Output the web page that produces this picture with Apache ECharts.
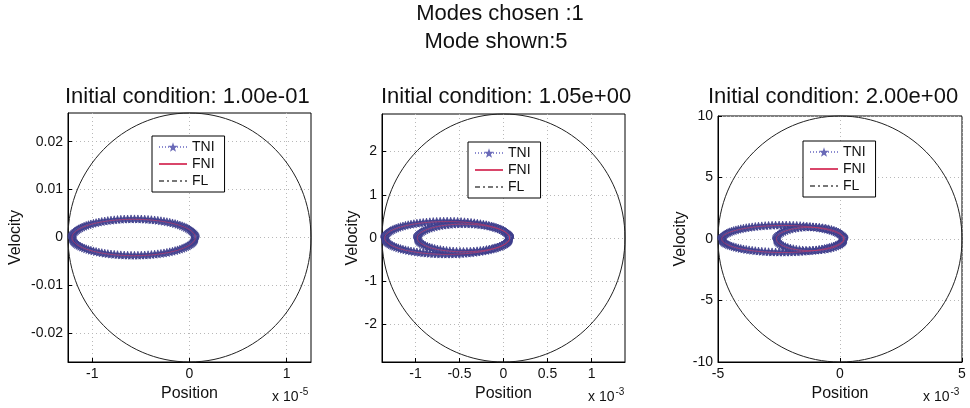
<!DOCTYPE html>
<html>
<head>
<meta charset="utf-8">
<script src="https://cdn.jsdelivr.net/npm/echarts@6/dist/echarts.min.js"></script>
<style>
html, body { margin: 0; padding: 0; background: #fff; }
#chart { width: 970px; height: 408px; }
</style>
</head>
<body>
<div id="chart"></div>
<script>
var FONT = '"Liberation Sans", Arial, Helvetica, sans-serif';

var mainTitle = ['Modes chosen :1', 'Mode shown:5'];
var titles = ['Initial condition: 1.00e-01', 'Initial condition: 1.05e+00', 'Initial condition: 2.00e+00'];
var legendNames = ['TNI', 'FNI', 'FL'];
var xLimits = [1.25, 1.38, 5];
var yLimits = [0.026, 2.87, 10];
var xTicks = [[-1, 0, 1], [-1, -0.5, 0, 0.5, 1], [-5, 0, 5]];
var yTicks = [[-0.02, -0.01, 0, 0.01, 0.02], [-2, -1, 0, 1, 2], [-10, -5, 0, 5, 10]];
var xExponents = ['-5', '-3', '-3'];
// each loop: [centre position, half width, half height]
var loops1 = [[-0.575, 0.635, 0.0038]];
var loops2 = [[-0.64, 0.71, 0.38], [-0.455, 0.525, 0.32]];
var loops3 = [[-2.35, 2.5, 1.1], [-1.22, 1.39, 0.95]];
var loops = [loops1, loops2, loops3];

var grids = [
  {left: 68, top: 113, width: 243, height: 249},
  {left: 382, top: 114, width: 243, height: 248},
  {left: 718, top: 116, width: 244, height: 246}
];
var legendPos = [[152, 136], [468, 142], [803, 141]];
var velGap = [44, 21, 29];
var titleX = [65, 381, 708];
var expPos = [[272, 397], [588, 397], [923, 397]];

var starPath = 'path://M0,-10L2.35,-3.24L9.51,-3.09L3.8,1.24L5.88,8.09L0,4L-5.88,8.09L-3.8,1.24L-9.51,-3.09L-2.35,-3.24Z';

function starPoints(x, y, r) {
  var pts = [];
  for (var k = 0; k < 10; k++) {
    var a = -Math.PI / 2 + k * Math.PI / 5;
    var rr = k % 2 ? r * 0.42 : r;
    pts.push([x + rr * Math.cos(a), y + rr * Math.sin(a)]);
  }
  return pts;
}

function ellipseItem(stroke, width, dash) {
  return function (params, api) {
    var c = api.coord([api.value(0), api.value(1)]);
    var s = api.size([api.value(2), api.value(3)]);
    return {
      type: 'ellipse',
      shape: {cx: c[0], cy: c[1], rx: s[0], ry: s[1]},
      style: {fill: 'none', stroke: stroke, lineWidth: width, lineDash: dash || null}
    };
  };
}

function starsItem(params, api) {
  var c = api.coord([api.value(0), api.value(1)]);
  var s = api.size([api.value(2), api.value(3)]);
  var rx = s[0], ry = s[1];
  var per = Math.PI * (3 * (rx + ry) - Math.sqrt((3 * rx + ry) * (rx + 3 * ry)));
  var n = Math.round(per / 2.4);
  var children = [];
  for (var k = 0; k < n; k++) {
    var t = 2 * Math.PI * k / n;
    children.push({
      type: 'polygon',
      shape: {points: starPoints(c[0] + rx * Math.cos(t), c[1] + ry * Math.sin(t), 4.4)},
      style: {fill: '#54549e', stroke: '#3a3a88', lineWidth: 0.7}
    });
  }
  return {type: 'group', children: children};
}

var option = {
  animation: false,
  backgroundColor: '#fff',
  textStyle: {fontFamily: FONT},
  grid: [],
  xAxis: [],
  yAxis: [],
  legend: [],
  series: [],
  graphic: []
};

option.graphic.push(
  {type: 'text', x: 500, y: 14, style: {text: mainTitle[0], font: '22px ' + FONT, fill: '#111', textAlign: 'center', textVerticalAlign: 'middle'}},
  {type: 'text', x: 496, y: 42, style: {text: mainTitle[1], font: '22px ' + FONT, fill: '#111', textAlign: 'center', textVerticalAlign: 'middle'}}
);

// legend-only series (no data)
var hidden = {color: 'rgba(0,0,0,0)', borderWidth: 0};
option.series.push(
  {name: 'TNI', type: 'line', xAxisIndex: 0, yAxisIndex: 0, data: [], symbol: starPath, symbolSize: 8,
   itemStyle: {color: '#6a6ab8'}, lineStyle: {color: '#8c8cd0', width: 1, type: [1, 2]}},
  {name: 'FNI', type: 'line', xAxisIndex: 0, yAxisIndex: 0, data: [], symbol: 'circle',
   itemStyle: hidden, lineStyle: {color: '#d9466a', width: 1}},
  {name: 'FL', type: 'line', xAxisIndex: 0, yAxisIndex: 0, data: [], symbol: 'circle',
   itemStyle: hidden, lineStyle: {color: '#777', width: 1.2, type: [5, 3, 2, 3]}}
);

for (var i = 0; i < 3; i++) {
  var g = grids[i];
  option.grid.push({left: g.left, top: g.top, width: g.width, height: g.height,
    show: true, borderColor: '#000', borderWidth: 1, backgroundColor: '#fff'});

  option.xAxis.push({
    type: 'value', gridIndex: i, min: -xLimits[i], max: xLimits[i],
    name: 'Position', nameLocation: 'middle', nameGap: 17,
    nameTextStyle: {fontSize: 16, color: '#111', fontFamily: FONT},
    axisLine: {onZero: false, lineStyle: {color: '#000', width: 1}},
    axisTick: {inside: true, length: 4, customValues: xTicks[i], lineStyle: {color: '#000'}},
    axisLabel: {customValues: xTicks[i], fontSize: 14, color: '#111', margin: 5, fontFamily: FONT},
    splitLine: {show: true, lineStyle: {color: '#b8b8b8', type: [1, 3], width: 1}}
  });
  option.yAxis.push({
    type: 'value', gridIndex: i, min: -yLimits[i], max: yLimits[i],
    name: 'Velocity', nameLocation: 'middle', nameGap: velGap[i],
    nameTextStyle: {fontSize: 16, color: '#111', fontFamily: FONT},
    axisLine: {onZero: false, lineStyle: {color: '#000', width: 1}},
    axisTick: {inside: true, length: 4, customValues: yTicks[i], lineStyle: {color: '#000'}},
    axisLabel: {customValues: yTicks[i], fontSize: 14, color: '#111', margin: 5, fontFamily: FONT},
    splitLine: {show: true, lineStyle: {color: '#b8b8b8', type: [1, 3], width: 1}}
  });

  option.legend.push({
    orient: 'vertical', left: legendPos[i][0], top: legendPos[i][1],
    data: legendNames, selectedMode: false,
    backgroundColor: '#fff', borderColor: '#000', borderWidth: 1,
    padding: [4, 10, 4, 6], itemGap: 3, itemWidth: 28, itemHeight: 12,
    textStyle: {fontSize: 14, color: '#111', fontFamily: FONT}
  });

  var loopData = loops[i].map(function (l) { return [l[0], 0, l[1], l[2]]; });

  option.series.push(
    {type: 'custom', name: 'circle' + i, xAxisIndex: i, yAxisIndex: i, silent: true, z: 3,
     data: [[0, 0, xLimits[i], yLimits[i]]], encode: {x: 0, y: 1},
     renderItem: ellipseItem('#222', 1)},
    {type: 'custom', name: 'FL' + i, xAxisIndex: i, yAxisIndex: i, silent: true, z: 3,
     data: loopData, encode: {x: 0, y: 1}, renderItem: ellipseItem('#777', 1, [5, 3, 2, 3])},
    {type: 'custom', name: 'TNI' + i, xAxisIndex: i, yAxisIndex: i, silent: true, z: 4,
     data: loopData, encode: {x: 0, y: 1}, renderItem: starsItem},
    {type: 'custom', name: 'FNI' + i, xAxisIndex: i, yAxisIndex: i, silent: true, z: 5,
     data: loopData, encode: {x: 0, y: 1}, renderItem: ellipseItem('rgba(205,55,95,0.6)', 1)}
  );

  option.graphic.push({type: 'text', x: titleX[i], y: 97,
    style: {text: titles[i], font: '22px ' + FONT, fill: '#111', textAlign: 'left', textVerticalAlign: 'middle'}});
  option.graphic.push({type: 'text', x: expPos[i][0], y: expPos[i][1],
    style: {text: 'x 10{s|' + xExponents[i] + '}', font: '14px ' + FONT, fill: '#111',
      textVerticalAlign: 'middle', rich: {s: {fontSize: 10, verticalAlign: 'top', padding: [0, 0, 9, 1], fill: '#111'}}}});
}

var chart = echarts.init(document.getElementById('chart'));
chart.setOption(option);
</script>
</body>
</html>
